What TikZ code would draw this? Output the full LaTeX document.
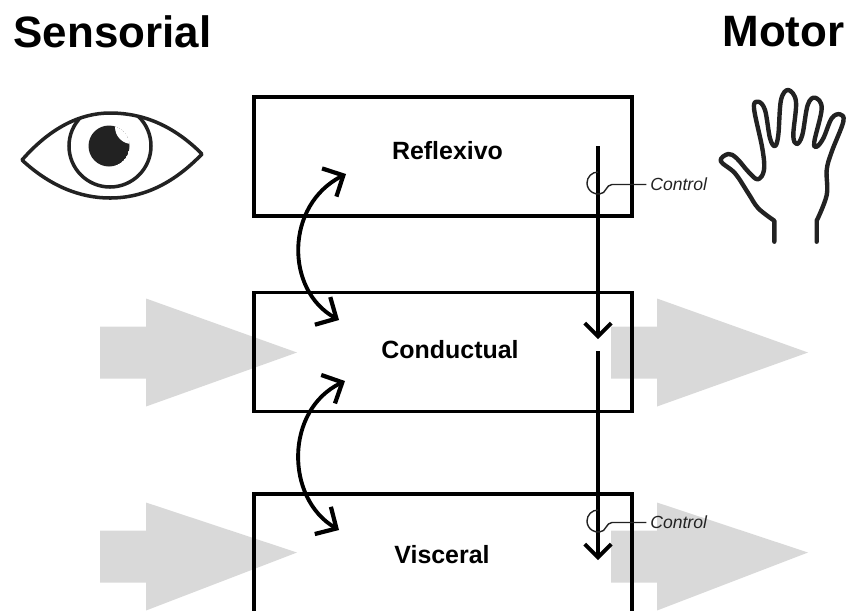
\documentclass[tikz,border=0pt]{standalone}
\usepackage{fontspec}
\setmainfont{Liberation Sans}
\usetikzlibrary{arrows.meta}
\definecolor{flowgray}{HTML}{D9D9D9}
\definecolor{inkgray}{HTML}{222222}
\tikzset{
  levelbox/.style={draw,line width=2pt,minimum width=7.56cm,minimum height=2.38cm,inner sep=0pt},
  levellabel/.style={font=\fontsize{14.2pt}{16pt}\selectfont\bfseries,inner sep=0pt},
  sidetitle/.style={font=\fontsize{25pt}{28pt}\selectfont\bfseries,inner sep=0pt},
  controllabel/.style={font=\fontsize{10pt}{12pt}\selectfont\itshape,text=inkgray,inner sep=0pt,anchor=west},
  loopline/.style={line width=2.2pt,{Straight Barb[length=9pt,width=18pt,line width=2.4pt]}-{Straight Barb[length=9pt,width=18pt,line width=2.4pt]}},
  downline/.style={line width=1.9pt,-{Straight Barb[length=7.5pt,width=15pt,line width=2.2pt]}},
  sensorline/.style={line width=0.8pt,inkgray},
  iconline/.style={line width=2pt,inkgray,line join=round}
}
\begin{document}
\begin{tikzpicture}[x=0.02cm,y=-0.02cm]
  \useasboundingbox (0,0) rectangle (848,610);
  \clip (0,0) rectangle (848,610);
  % gray flow arrows
  \foreach \x/\y/\t in {100/352.5/0,611/352.5/0,100/556.5/-4,611/556.5/-4}
    \fill [flowgray,shift={(\x,\y)}] (0,-26) -- (46,-26) -- (46,-54) -- (197,\t)
      -- (46,54) -- (46,26) -- (0,26) -- cycle;
  % levels
  \node [levelbox] (reflexivoBox) at (443,156.5) {};
  \node [levelbox] (conductualBox) at (443,352) {};
  \node [levelbox,minimum height=2.92cm] (visceralBox) at (443,567) {};
  \node [levellabel] (reflexivo) at (447.5,151) {Reflexivo};
  \node [levellabel] (conductual) at (450,350) {Conductual};
  \node [levellabel] (visceral) at (442,555) {Visceral};
  \node [sidetitle] (sensorial) at (112.5,32) {Sensorial};
  \node [sidetitle] (motor) at (783.5,32) {Motor};
  % loops between levels
  \coordinate (loopOneTop) at (346,174);
  \coordinate (loopOneBottom) at (339,320);
  \coordinate (loopTwoTop) at (345,381);
  \coordinate (loopTwoBottom) at (339,530);
  \draw [loopline] (loopOneTop) .. controls (285,205) and (285,290) .. (loopOneBottom);
  \draw [loopline] (loopTwoTop) .. controls (285,410) and (285,498) .. (loopTwoBottom);
  % control lines going down
  \coordinate (downOneStart) at (598,146);
  \coordinate (downOneEnd) at (598,339);
  \coordinate (downTwoStart) at (598,351);
  \coordinate (downTwoEnd) at (598,560);
  \draw [downline] (downOneStart) -- (downOneEnd);
  \draw [downline] (downTwoStart) -- (downTwoEnd);
  % control sensors
  \node [controllabel] (controlOne) at (650,184.5) {Control};
  \node [controllabel] (controlTwo) at (650,522.5) {Control};
  \draw [sensorline] (598,172) arc (-90:-280:11) .. controls (606,194) and (606,184.5) .. (612,184.5) -- ([xshift=-2pt]controlOne.west);
  \draw [sensorline] (598,510) arc (-90:-280:11) .. controls (606,532) and (606,522.5) .. (612,522.5) -- ([xshift=-2pt]controlTwo.west);
  % eye
  \begin{scope}
    \clip (22,160) .. controls (50,128) and (80,113) .. (110,113)
      .. controls (145,113) and (175,127) .. (202,154)
      .. controls (175,182) and (145,198) .. (110,198)
      .. controls (80,198) and (50,186) .. (22,160) -- cycle;
    \draw [iconline] (110,146) circle (41);
  \end{scope}
  \draw [iconline] (22,160) .. controls (50,128) and (80,113) .. (110,113)
    .. controls (145,113) and (175,127) .. (202,154)
    .. controls (175,182) and (145,198) .. (110,198)
    .. controls (80,198) and (50,186) .. (22,160) -- cycle;
  \begin{scope}
    \clip (109,146) circle (20.5);
    \fill [inkgray] (109,146) circle (20.5);
    \fill [white] (132,127) circle (17);
  \end{scope}
  % hand
  \draw [iconline,line width=2.5pt,line cap=round] (816.7,241.7) -- (816.7,220.7)
    plot [smooth,tension=0.6] coordinates {(816.7,220.7) (826.7,195) (826.7,170) (831.7,151.7)
      (843.3,121.7) (840,114.3) (831.7,118.3) (823.3,138.3) (816.7,146.7) (814.3,141.7)
      (821.7,108.3) (815,97.7) (807.7,105) (802.3,135) (796.7,144) (793.3,135) (796,101.7)
      (788.3,90) (781,100) (778.3,135) (775,146) (770,138.3) (765,110) (758.3,101.7)
      (754,108.3) (762.3,148.3) (764,170) (757.7,179.3) (748.3,171.7) (736.7,158.3)
      (728.3,154) (720.7,161) (735,173.3) (748.3,193.3) (758.3,208.3) (774.3,220.7)}
    -- (774.3,241.7);
\end{tikzpicture}
\end{document}
